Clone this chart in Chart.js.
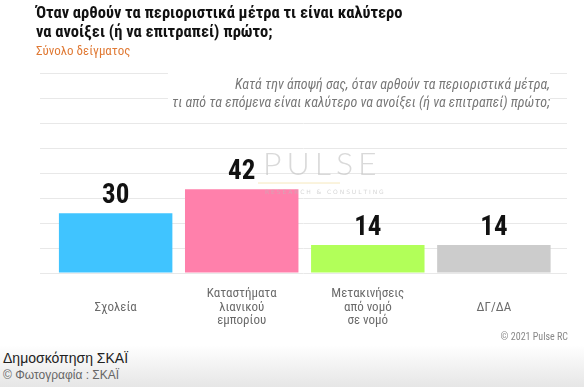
<!DOCTYPE html>
<html>
<head>
<meta charset="utf-8">
<script src="https://cdn.jsdelivr.net/npm/chart.js@4/dist/chart.umd.min.js"></script>
<style>
  html, body { margin: 0; padding: 0; background: #fff; }
  body { width: 584px; height: 387px; overflow: hidden; }
  #wrap { position: relative; width: 584px; height: 345px; }
  #caption {
    height: 42px;
    background: linear-gradient(#ffffff, #e6e6e6);
    font-family: "Liberation Sans", Arial, sans-serif;
    padding-left: 3px;
  }
  #caption .t1 { font-size: 14px; color: #222; line-height: 20px; padding-top: 3px; }
  #caption .t2 { font-size: 12px; color: #666; line-height: 15px; }
</style>
</head>
<body>
<div id="wrap"><canvas id="pollChart" width="584" height="345"></canvas></div>
<div id="caption">
  <div class="t1">Δημοσκόπηση ΣΚΑΪ</div>
  <div class="t2">© Φωτογραφία : ΣΚΑΪ</div>
</div>
<script>
const categories = [
    "Σχολεία",
    ["Καταστήματα", "λιανικού", "εμπορίου"],
    ["Μετακινήσεις", "από νομό", "σε νομό"],
    "ΔΓ/ΔΑ",
];
const values = [30, 42, 14, 14];
const barColors = ["#40c4ff", "#ff80ab", "#b2ff59", "#cccccc"];
const titleLines = [
    "Όταν αρθούν τα περιοριστικά μέτρα τι είναι καλύτερο",
    "να ανοίξει (ή να επιτραπεί) πρώτο;",
];
const subtitleText = "Σύνολο δείγματος";
const questionLines = [
    "Κατά την άποψή σας, όταν αρθούν τα περιοριστικά μέτρα,",
    "τι από τα επόμενα είναι καλύτερο να ανοίξει (ή να επιτραπεί) πρώτο;",
];
const sourceText = "© 2021 Pulse RC";

const NARROW = "'Liberation Sans Narrow', 'Roboto Condensed', 'DejaVu Sans Condensed', sans-serif";

// value labels, question box, watermark and source
const extrasPlugin = {
    id: "extras",
    beforeDatasetsDraw(chart) {
        const ctx = chart.ctx;
        ctx.save();
        ctx.font = "italic 14px " + NARROW;
        const right = 550;
        const w = Math.max(...questionLines.map((l) => ctx.measureText(l).width));
        ctx.fillStyle = "#ffffff";
        ctx.fillRect(right - w - 4, 70, w + 4, 40);
        ctx.fillStyle = "#777777";
        ctx.textAlign = "right";
        ctx.textBaseline = "middle";
        ctx.fillText(questionLines[0], right, 85);
        ctx.fillText(questionLines[1], right, 103);
        ctx.restore();
    },
    afterDatasetsDraw(chart) {
        const ctx = chart.ctx;
        const meta = chart.getDatasetMeta(0);
        ctx.save();
        // watermark
        ctx.globalAlpha = 0.6;
        ctx.fillStyle = "#c0c0c0";
        ctx.font = "300 32px Lato, 'DejaVu Sans', sans-serif";
        ctx.textAlign = "left";
        ctx.textBaseline = "alphabetic";
        let x = 263;
        for (const ch of "PULSE") {
            ctx.fillText(ch, x, 175);
            x += ctx.measureText(ch).width + 5;
        }
        ctx.strokeStyle = "#f0d890";
        ctx.lineWidth = 1;
        ctx.beginPath();
        ctx.moveTo(258, 183);
        ctx.lineTo(340, 183);
        ctx.stroke();
        ctx.font = "6px 'DejaVu Sans', sans-serif";
        ctx.fillStyle = "#bbbbbb";
        ctx.fillText("R E S E A R C H   &   C O N S U L T I N G", 265, 194);
        ctx.globalAlpha = 1;
        // values
        ctx.fillStyle = "#111111";
        ctx.font = "bold 27px " + NARROW;
        ctx.textAlign = "center";
        meta.data.forEach((bar, i) => {
            ctx.fillText(String(values[i]), bar.x, bar.y - 10);
        });
        // source
        ctx.fillStyle = "#888888";
        ctx.font = "10px " + NARROW;
        ctx.textAlign = "right";
        ctx.textBaseline = "middle";
        ctx.fillText(sourceText, 568, 337);
        ctx.restore();
    },
};

new Chart(document.getElementById("pollChart"), {
    type: "bar",
    data: {
        datasets: [
            {
                data: values.map((v, i) => ({ x: i, y: v })),
                backgroundColor: barColors,
                categoryPercentage: 0.9,
                barPercentage: 1,
            },
        ],
    },
    options: {
        responsive: false,
        animation: false,
        layout: { padding: { top: 4, left: 36, right: 17, bottom: 0 } },
        plugins: {
            legend: { display: false },
            tooltip: { enabled: false },
            title: {
                display: true,
                text: titleLines,
                align: "start",
                color: "#111111",
                font: { family: NARROW, size: 16.5, weight: "bold", lineHeight: 1.18 },
                padding: { top: 0, bottom: 1 },
            },
            subtitle: {
                display: true,
                text: subtitleText,
                align: "start",
                color: "#e07a35",
                font: { family: NARROW, size: 13, lineHeight: 1.2 },
                padding: { top: 0, bottom: 14.3 },
            },
        },
        scales: {
            x: {
                type: "linear",
                min: -0.6,
                max: 3.58,
                offset: false,
                grid: { display: false, drawTicks: false },
                border: { display: false },
                afterBuildTicks(scale) {
                    scale.ticks = categories.map((c, i) => ({ value: i }));
                },
                afterFit(scale) {
                    scale.height = 72;
                },
                ticks: {
                    callback: (v) => categories[v],
                    color: "#6b6b6b",
                    font: { family: NARROW, size: 13, lineHeight: 1.03 },
                    padding: 21,
                    maxRotation: 0,
                    autoSkip: false,
                    crossAlign: "center",
                },
            },
            y: {
                min: 0,
                max: 100,
                grid: { color: "#e8e8e8", drawTicks: false },
                border: { display: false },
                afterFit(scale) {
                    scale.width = 4;
                },
                ticks: { display: false, stepSize: 12.5 },
            },
        },
    },
    plugins: [extrasPlugin],
});
</script>
</body>
</html>
